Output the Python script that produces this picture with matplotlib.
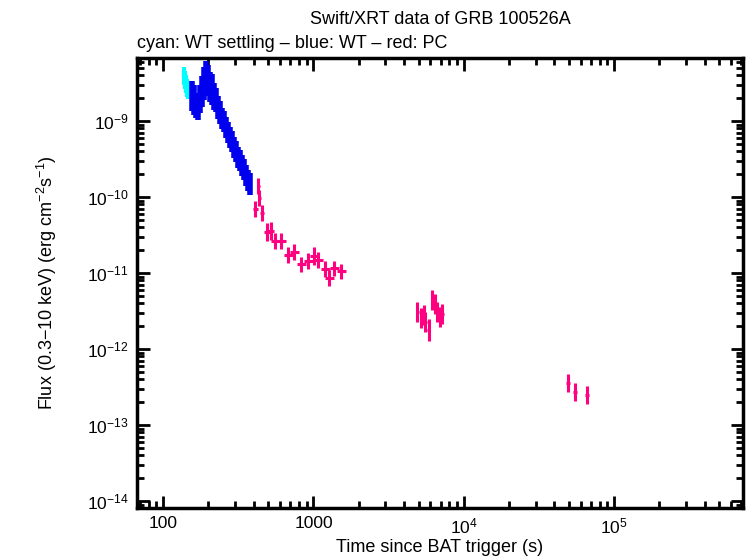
import matplotlib
matplotlib.use("Agg")
import matplotlib.pyplot as plt
import numpy as np
from matplotlib.ticker import LogLocator, FixedLocator, FixedFormatter, NullFormatter

plt.rcParams['font.family'] = ['Liberation Sans', 'DejaVu Sans']
plt.rcParams['mathtext.fontset'] = 'custom'
plt.rcParams['mathtext.rm'] = 'Liberation Sans'
plt.rcParams['mathtext.it'] = 'Liberation Sans'

# --- data ---
wts_t = [138.0, 140.1, 142.3, 144.5, 146.7]
wts_f = [3.9e-9, 3.5e-9, 3.05e-9, 2.7e-9, 2.55e-9]

wt_t = [155.9, 160.8, 165.8, 171.0, 176.3, 181.8, 187.4, 193.3, 199.3, 205.5,
        211.8, 218.4, 225.2, 232.2, 239.4, 246.9, 254.5, 262.6, 270.7, 279.1,
        287.8, 296.7, 305.9, 315.5, 325.2, 335.4, 345.8, 356.6, 367.6, 379.1]
wt_f = [2.13e-9, 1.9e-9, 1.6e-9, 1.5e-9, 1.95e-9, 2.45e-9, 3.1e-9, 3.7e-9, 3.4e-9, 2.8e-9,
        2.6e-9, 2.1e-9, 1.9e-9, 1.5e-9, 1.3e-9, 1.08e-9, 9.8e-10, 8.2e-10, 7.0e-10, 6.1e-10,
        5.4e-10, 4.5e-10, 3.95e-10, 3.3e-10, 3.0e-10, 2.6e-10, 2.3e-10, 1.9e-10, 1.65e-10, 1.48e-10]

pc_t = [429, 435, 410, 456, 492, 523, 556, 610, 679, 744, 828, 922, 1011, 1074,
        1196, 1271, 1374, 1528,
        4900, 5210, 5400, 5560, 5850, 6160, 6400, 6680, 6970, 7200,
        49500, 55000, 66200]
pc_f = [1.40e-10, 9.7e-11, 6.95e-11, 6.15e-11, 3.46e-11, 3.57e-11, 2.64e-11, 2.64e-11,
        1.73e-11, 1.89e-11, 1.31e-11, 1.44e-11, 1.67e-11, 1.48e-11, 1.13e-11, 8.6e-12,
        1.16e-11, 1.06e-11,
        3.07e-12, 2.56e-12, 2.8e-12, 2.26e-12, 1.78e-12, 4.4e-12, 3.9e-12, 3.07e-12, 2.64e-12, 2.9e-12,
        3.57e-13, 2.72e-13, 2.48e-13]

# relative errors (dex) and half time widths (dex)
wts_dy = 0.12
wt_dy = [0.2, 0.2, 0.16, 0.16, 0.18, 0.2, 0.22, 0.22, 0.2, 0.2, 0.2, 0.18,
         0.16, 0.15, 0.15, 0.14, 0.14, 0.14, 0.14, 0.14, 0.14, 0.14, 0.14, 0.14,
         0.14, 0.14, 0.14, 0.14, 0.14, 0.14]
pc_dy = [0.11, 0.10, 0.10, 0.10, 0.12, 0.12, 0.11, 0.11, 0.10, 0.10, 0.10, 0.10, 0.12, 0.11,
         0.10, 0.11, 0.10, 0.10,
         0.13, 0.13, 0.13, 0.13, 0.15, 0.13, 0.13, 0.13, 0.13, 0.13,
         0.12, 0.12, 0.12]
pc_dx = [0.01, 0.01, 0.015, 0.015, 0.02, 0.02, 0.03, 0.03, 0.03, 0.03, 0.03, 0.03, 0.03, 0.03,
         0.03, 0.03, 0.03, 0.03,
         0.01, 0.01, 0.01, 0.01, 0.01, 0.01, 0.01, 0.01, 0.01, 0.01,
         0.015, 0.015, 0.015]

def err(vals, dex):
    v = np.asarray(vals, float)
    d = np.broadcast_to(np.asarray(dex, float), v.shape)
    return np.vstack([v - v / 10**d, v * 10**d - v])

fig = plt.figure(figsize=(7.46, 5.58), dpi=100)
ax = fig.add_axes([137/746, 1-508/558, (743-137)/746, (508-58)/558])

ax.errorbar(wts_t, wts_f, yerr=err(wts_f, wts_dy), xerr=err(wts_t, 0.004),
            fmt='none', ecolor='#00ffff', elinewidth=3, capsize=0)
ax.errorbar(wt_t, wt_f, yerr=err(wt_f, wt_dy), xerr=err(wt_t, 0.0065),
            fmt='none', ecolor='#0000ee', elinewidth=4, capsize=0)
ax.errorbar(pc_t, pc_f, yerr=err(pc_f, pc_dy), xerr=err(pc_t, pc_dx),
            fmt='none', ecolor='#ff0080', elinewidth=2.2, capsize=0)

ax.set_xscale('log')
ax.set_yscale('log')
ax.set_xlim(67, 7.2e5)
ax.set_ylim(8.1e-15, 6.75e-9)

ax.xaxis.set_major_locator(FixedLocator([100, 1000, 1e4, 1e5]))
ax.xaxis.set_major_formatter(FixedFormatter(['100', '1000', r'$10^4$', r'$10^5$']))
ax.xaxis.set_minor_locator(LogLocator(base=10, subs=np.arange(2, 10), numticks=20))
ax.xaxis.set_minor_formatter(NullFormatter())
yt = [1e-14, 1e-13, 1e-12, 1e-11, 1e-10, 1e-9]
ax.yaxis.set_major_locator(FixedLocator(yt))
ax.yaxis.set_major_formatter(FixedFormatter([r'$10^{-14}$', r'$10^{-13}$', r'$10^{-12}$',
                                              r'$10^{-11}$', r'$10^{-10}$', r'$10^{-9}$']))
ax.yaxis.set_minor_locator(LogLocator(base=10, subs=np.arange(2, 10), numticks=20))
ax.yaxis.set_minor_formatter(NullFormatter())

for s in ax.spines.values():
    s.set_linewidth(2.5)
ax.tick_params(which='both', direction='in', top=True, right=True, width=2, labelsize=12.5)
ax.tick_params(which='major', length=9, pad=6)
ax.tick_params(which='minor', length=5)

ax.set_xlabel('Time since BAT trigger (s)', fontsize=13, labelpad=2)
ax.set_ylabel(r'Flux (0.3$-$10 keV) (erg cm$^{-2}$s$^{-1}$)', fontsize=13, labelpad=20)

fig.text(440/746, 1-20/558, 'Swift/XRT data of GRB 100526A', ha='center', va='center', fontsize=13)
fig.text(137/746, 1-44/558, 'cyan: WT settling \u2013 blue: WT \u2013 red: PC', ha='left', va='center', fontsize=13)

fig.savefig('out.png', dpi=100)
